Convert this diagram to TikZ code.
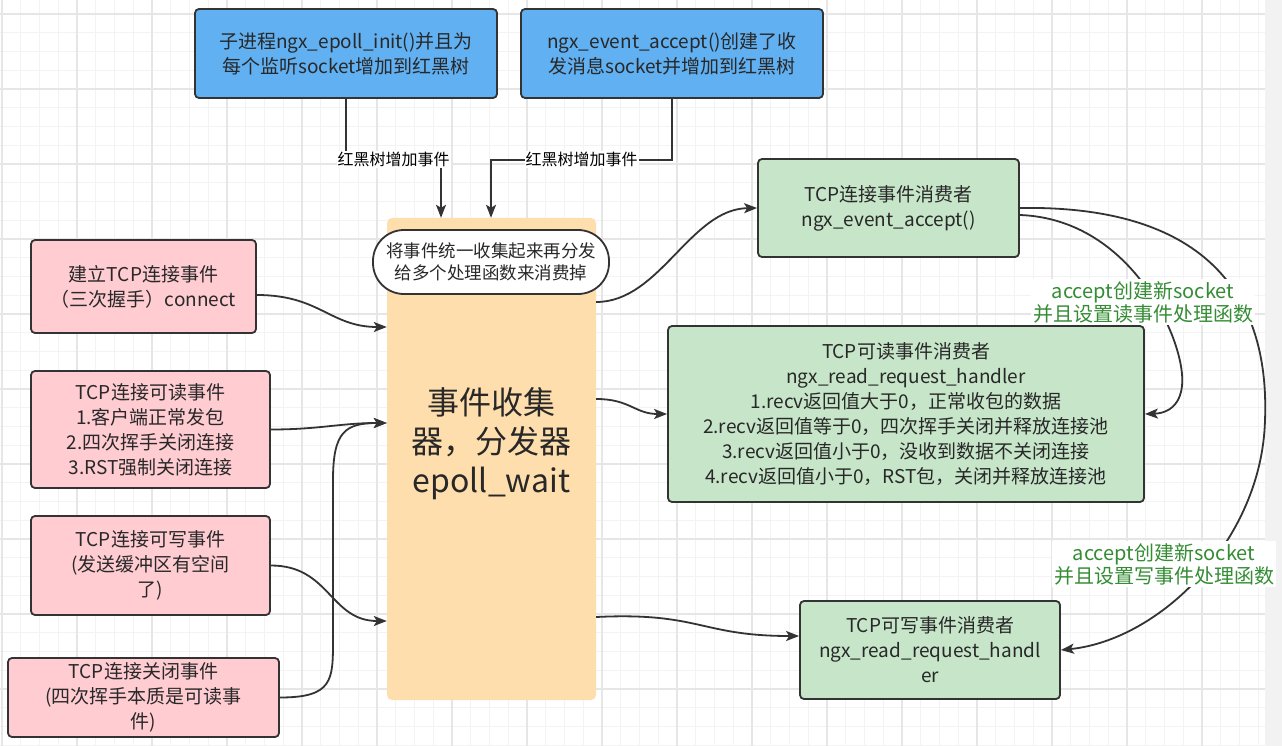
\documentclass[tikz,border=0pt]{standalone}
\usepackage{fontspec}
\setmainfont{Noto Sans CJK SC}
\usetikzlibrary{arrows.meta,calc}
\definecolor{bluefill}{RGB}{97,176,242}
\definecolor{pinkfill}{RGB}{255,204,210}
\definecolor{greenfill}{RGB}{199,230,201}
\definecolor{orangefill}{RGB}{255,222,173}
\definecolor{strokec}{RGB}{51,51,51}
\definecolor{textc}{RGB}{40,40,40}
\definecolor{glabel}{RGB}{52,140,52}
\definecolor{gridminor}{RGB}{243,243,243}
\definecolor{gridmajor}{RGB}{230,230,230}
\definecolor{sidegray}{RGB}{242,242,242}
\tikzset{
  boxbase/.style={draw=strokec, line width=1.8pt, rounded corners=4pt, align=center,
    text=textc, inner sep=2pt, font=\fontsize{19}{25}\selectfont},
  bluebox/.style={boxbase, fill=bluefill},
  pinkbox/.style={boxbase, fill=pinkfill},
  greenbox/.style={boxbase, fill=greenfill},
  conn/.style={draw=strokec, line width=1.8pt, -{Stealth[length=13pt,width=10pt,inset=3pt]}},
  lbl/.style={fill=white, inner sep=1pt, text=black, font=\fontsize{16}{20}\selectfont},
  glbl/.style={fill=white, inner sep=2pt, text=glabel, align=center, font=\fontsize{20}{23}\selectfont},
}
\begin{document}
\begin{tikzpicture}[x=1pt,y=-1pt]
\useasboundingbox (0,0) rectangle (1282,746);
% background grid
\fill[white] (0,0) rectangle (1282,746);
\fill[sidegray] (1265,0) rectangle (1282,746);
\foreach \i in {0,...,67} \draw[gridminor, line width=1pt] ({2+18.75*\i},0) -- ({2+18.75*\i},746);
\foreach \i in {0,...,40} \draw[gridminor, line width=1pt] (0,{-4.75+18.75*\i}) -- (1265,{-4.75+18.75*\i});
\foreach \i in {0,...,16} \draw[gridmajor, line width=1.3pt] ({2+75*\i},0) -- ({2+75*\i},746);
\foreach \i in {0,...,10} \draw[gridmajor, line width=1.3pt] (0,{14+75*\i}) -- (1265,{14+75*\i});

% central collector
\node[fill=orangefill, rounded corners=5pt, minimum width=209pt, minimum height=482pt, inner sep=0pt] (O) at (491.5,459) {};
\node[align=center, text=textc, font=\fontsize{32}{39}\selectfont] (otext) at (491.5,444) {事件收集\\器，分发器\\epoll\_wait};
\node[draw=strokec, line width=1.8pt, fill=white, rounded corners=31pt, minimum width=236pt, minimum height=64pt, inner sep=0pt, align=center, text=textc, font=\fontsize{17.5}{22}\selectfont] (pill) at (491,262) {将事件统一收集起来再分发\\给多个处理函数来消费掉};

% top boxes
\node[bluebox, minimum width=302pt, minimum height=89pt] (B1) at (346,53.5) {子进程ngx\_epoll\_init()并且为\\每个监听socket增加到红黑树};
\node[bluebox, minimum width=302pt, minimum height=89pt] (B2) at (672,53.5) {ngx\_event\_accept()创建了收\\发消息socket并增加到红黑树};

% left boxes
\node[pinkbox, minimum width=225pt, minimum height=93pt] (P1) at (143.5,286.5) {建立TCP连接事件\\（三次握手）connect};
\node[pinkbox, minimum width=239pt, minimum height=117pt] (P2) at (150.5,429.5) {TCP连接可读事件\\1.客户端正常发包\\2.四次挥手关闭连接\\3.RST强制关闭连接};
\node[pinkbox, minimum width=239pt, minimum height=99pt] (P3) at (150.5,565.5) {TCP连接可写事件\\(发送缓冲区有空间\\了)};
\node[pinkbox, minimum width=271pt, minimum height=79pt] (P4) at (143.5,697.5) {TCP连接关闭事件\\(四次挥手本质是可读事\\件)};

% right boxes
\node[greenbox, minimum width=261pt, minimum height=98pt] (G1) at (888.5,208) {TCP连接事件消费者\\ngx\_event\_accept()};
\node[greenbox, minimum width=476pt, minimum height=176pt] (G2) at (906,414) {TCP可读事件消费者\\ngx\_read\_request\_handler\\1.recv返回值大于0，正常收包的数据\\2.recv返回值等于0，四次挥手关闭并释放连接池\\3.recv返回值小于0，没收到数据不关闭连接\\4.recv返回值小于0，RST包，关闭并释放连接池};
\node[greenbox, minimum width=260pt, minimum height=98pt] (G3) at (930,650) {TCP可写事件消费者\\ngx\_read\_request\_handl\\er};

% top connectors
\draw[conn] (B1.south) |- node[lbl, pos=0.75] {红黑树增加事件} ([xshift=-50.5pt,yshift=58pt]O.north) -- ([xshift=-50.5pt]O.north);
\draw[conn] (B2.south) |- node[lbl, pos=0.75] {红黑树增加事件} ([xshift=-0.5pt,yshift=58pt]O.north) -- ([xshift=-0.5pt]O.north);

% left connectors
\draw[conn] ([yshift=-8.5pt]P1.east) .. controls (320,295) and (330,327) .. ([yshift=132pt]O.west);
\draw[conn] (P2.east) .. controls (320,429.5) and (340,423) .. ([yshift=36pt]O.west);
\draw[conn] (P3.east) .. controls (330,565.5) and (330,621) .. ([yshift=-162pt]O.west);
\draw[conn] (P4.east) .. controls (333,697.5) and (333,680) .. (333,640) -- (333,480) .. controls (333,432) and (345,423) .. ([yshift=36pt]O.west);

% collector to consumers
\draw[conn] ([yshift=157pt]O.east) .. controls (660,302) and (690,209) .. (G1.west);
\draw[conn] ([yshift=60pt]O.east) .. controls (630,399) and (635,414) .. (G2.west);
\draw[conn] ([yshift=-158pt]O.east) .. controls (700,612) and (700,636) .. ([yshift=14pt]G3.west);

% accept connectors
\draw[conn] ([yshift=-7pt]G1.east) .. controls (1100,218) and (1150,280) .. (1172,335) .. controls (1195,395) and (1175,413) .. (G2.east);
\draw[conn] (G1.east) .. controls (1200,205) and (1270,290) .. (1265,420) .. controls (1262,540) and (1160,640) .. (G3.east);
\node[glbl] (L1) at (1143,302) {accept创建新socket\\并且设置读事件处理函数};
\node[glbl] (L2) at (1164,564) {accept创建新socket\\并且设置写事件处理函数};
\end{tikzpicture}
\end{document}
